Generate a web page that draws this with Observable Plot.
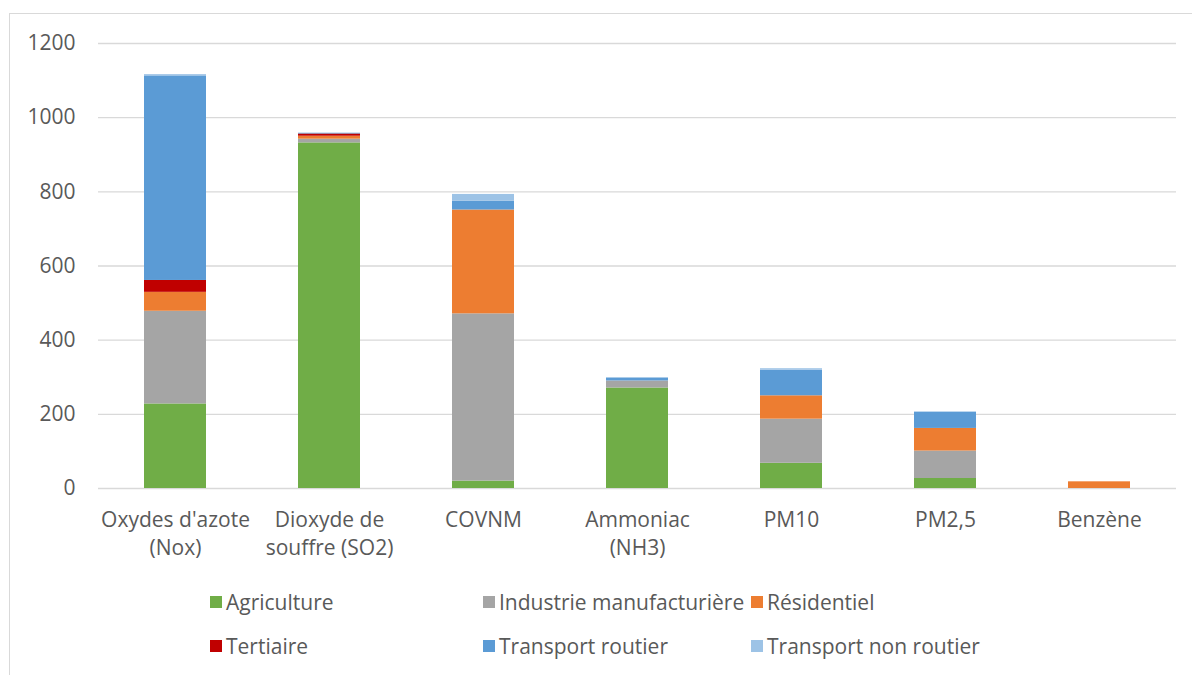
<!DOCTYPE html>
<html>
<head>
<meta charset="utf-8">
<script src="https://cdn.jsdelivr.net/npm/d3@7"></script>
<script src="https://cdn.jsdelivr.net/npm/@observablehq/plot@0.6"></script>
<style>
  html, body { margin: 0; padding: 0; background: #fff; }
  #wrap { position: relative; width: 1192px; height: 675px; overflow: hidden; font-family: "Open Sans", Lato, sans-serif; }
  #frame { position: absolute; left: 9px; top: 13px; width: 1200px; height: 700px; border: 1.5px solid #D9D9D9; box-sizing: border-box; }
  #chart { position: absolute; left: 0; top: 0; }
  .leg { position: absolute; font-size: 21px; color: #595959; display: flex; align-items: center; white-space: nowrap; }
  .leg i { display: inline-block; width: 12px; height: 12px; margin-right: 4px; }
</style>
</head>
<body>
<div id="wrap">
  <div id="frame"></div>
  <div id="chart"></div>
</div>
<script>
// Polluants (catégories de l'axe horizontal)
const categories = ["Oxydes d'azote (Nox)", "Dioxyde de souffre (SO2)", "COVNM", "Ammoniac (NH3)", "PM10", "PM2,5", "Benzène"];
const categoryLabels = ["Oxydes d'azote\n(Nox)", "Dioxyde de\nsouffre (SO2)", "COVNM", "Ammoniac\n(NH3)", "PM10", "PM2,5", "Benzène"];

// Secteurs émetteurs, du bas vers le haut de chaque pile
const sectors = ["Agriculture", "Industrie manufacturière", "Résidentiel", "Tertiaire", "Transport routier", "Transport non routier"];
const sectorColors = ["#70AD47", "#A5A5A5", "#ED7D31", "#C00000", "#5B9BD5", "#9DC3E6"];

// Émissions par secteur, dans l'ordre des polluants
const agriculture         = [228, 932,  20, 271,  68, 27,  0];
const industrie           = [250,  10, 451,  19, 119, 74,  0];
const residentiel         = [ 51,   8, 280,   0,  63, 61, 18];
const tertiaire           = [ 32,   6,   0,   0,   0,  0,  0];
const transportRoutier    = [550,   2,  24,   8,  69, 44,  0];
const transportNonRoutier = [  5,   0,  18,   0,   4,  0,  0];

const yTicks = [0, 200, 400, 600, 800, 1000, 1200];

const series = [agriculture, industrie, residentiel, tertiaire, transportRoutier, transportNonRoutier];
const rows = [];
sectors.forEach((s, i) => {
  categories.forEach((c, j) => {
    rows.push({ polluant: c, secteur: s, valeur: series[i][j] });
  });
});

const labelOf = new Map(categories.map((c, i) => [c, categoryLabels[i]]));

const chart = Plot.plot({
  width: 1192,
  height: 570,
  marginLeft: 98,
  marginRight: 16,
  marginTop: 43,
  marginBottom: 82,
  style: { fontFamily: "'Open Sans', Lato, sans-serif", fontSize: "21px", color: "#595959", background: "transparent" },
  x: { domain: categories, paddingInner: 0.6, paddingOuter: 0.3, label: null },
  y: { domain: [0, 1200], label: null },
  color: { domain: sectors, range: sectorColors },
  marks: [
    Plot.gridY(yTicks, { stroke: "#D9D9D9", strokeOpacity: 1, strokeWidth: 1.4 }),
    Plot.barY(rows, {
      x: "polluant",
      y: "valeur",
      fill: "secteur",
      order: sectors,
      inset: 0
    }),
    Plot.axisY(yTicks, { tickSize: 0, tickPadding: 23, fontSize: 21, fill: "#595959", tickFormat: (d) => String(d) }),
    Plot.axisX({ tickSize: 0, tickPadding: 19, fontSize: 21, fill: "#595959", lineHeight: 1.33, tickFormat: (d) => labelOf.get(d) })
  ]
});
document.getElementById("chart").appendChild(chart);

// Légende en deux lignes de trois entrées
const wrap = document.getElementById("wrap");
const legendCols = [210, 483, 751];
const legendRows = [602, 646];
sectors.forEach((s, i) => {
  const el = document.createElement("div");
  el.className = "leg";
  el.style.left = legendCols[i % 3] + "px";
  el.style.top = (legendRows[Math.floor(i / 3)] - 12) + "px";
  el.style.height = "24px";
  const sw = document.createElement("i");
  sw.style.background = sectorColors[i];
  el.appendChild(sw);
  el.appendChild(document.createTextNode(s));
  wrap.appendChild(el);
});
</script>
</body>
</html>
